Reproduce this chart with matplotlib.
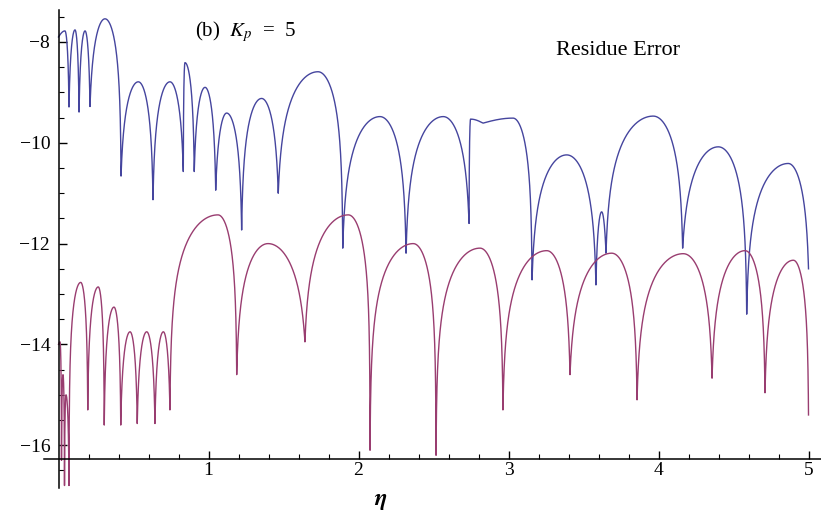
import numpy as np
import matplotlib
matplotlib.use("Agg")
import matplotlib.pyplot as plt

plt.rcParams["font.family"] = ["Liberation Serif", "DejaVu Serif"]
plt.rcParams["mathtext.fontset"] = "stix"

# log10 of the residue error versus eta.
# Nodes alternate: zero/dip, local maximum, zero/dip, ... (value = log10 error)
blue_eta = [0.000, 0.043, 0.070, 0.110, 0.137, 0.177, 0.210, 0.310, 0.417,
            0.532, 0.630, 0.743, 0.832, 0.843, 0.905, 0.977, 1.048, 1.121,
            1.221, 1.354, 1.465, 1.730, 1.895, 2.143, 2.317, 2.565, 2.737,
            2.747, 2.830, 3.030, 3.157, 3.388, 3.583, 3.621, 3.650, 3.965,
            4.161, 4.399, 4.588, 4.865, 5.000]
blue_val = [-7.90, -7.78, -9.29, -7.76, -9.39, -7.78, -9.28, -7.54, -10.66,
            -8.79, -11.13, -8.79, -10.57, -8.41, -10.57, -8.90, -10.94, -9.41,
            -11.73, -9.12, -11.00, -8.59, -12.09, -9.48, -12.19, -9.48, -11.60,
            -9.53, -9.61, -9.51, -12.72, -10.24, -12.82, -11.37, -12.19, -9.47,
            -12.09, -10.08, -13.40, -10.41, -12.50]

pink_eta = [0.000, 0.010, 0.020, 0.030, 0.040, 0.050, 0.070, 0.148, 0.195,
            0.265, 0.305, 0.370, 0.415, 0.477, 0.525, 0.588, 0.643, 0.699,
            0.743, 1.063, 1.188, 1.397, 1.643, 1.932, 2.077, 2.365, 2.517,
            2.810, 2.963, 3.255, 3.410, 3.688, 3.857, 4.165, 4.357, 4.577,
            4.710, 4.899, 5.000]
pink_val = [-14.00, -13.95, -16.30, -14.60, -16.80, -15.00, -16.80, -12.77, -15.30,
            -12.86, -15.60, -13.26, -15.60, -13.75, -15.57, -13.75, -15.57, -13.75,
            -15.30, -11.43, -14.60, -12.00, -13.95, -11.43, -16.10, -12.00, -16.20,
            -12.09, -15.30, -12.14, -14.60, -12.19, -15.10, -12.20, -14.67, -12.14,
            -14.96, -12.33, -15.40]

x_major = [1, 2, 3, 4, 5]
y_major = [-8, -10, -12, -14, -16]

BLUE = (0.27, 0.27, 0.62)
PINK = (0.60, 0.24, 0.44)


def half_arch(t, h, d, steep):
    """log-magnitude profile from a dip value d (t=0) up to a peak h (t=1)."""
    eps = 10.0 ** ((d - h) / steep)
    return h + steep * np.log10((1.0 - eps) * np.sin(np.pi / 2 * t) + eps)


def arch_curve(eta_nodes, val_nodes, steep=2.0, n=200):
    """Join dip/peak nodes with log-magnitude arches (cusps at the zeros)."""
    xs, ys = [], []
    t = np.linspace(0.0, 1.0, n) ** 2
    for i in range(0, len(eta_nodes) - 2, 2):
        z0, p, z1 = eta_nodes[i], eta_nodes[i + 1], eta_nodes[i + 2]
        d0, h, d1 = val_nodes[i], val_nodes[i + 1], val_nodes[i + 2]
        xl = z0 + t * (p - z0)
        yl = half_arch(t, h, d0, steep)
        xr = (z1 - t * (z1 - p))[::-1]
        yr = half_arch(t, h, d1, steep)[::-1]
        xs.extend([xl, xr[1:]])
        ys.extend([yl, yr[1:]])
    return np.concatenate(xs), np.concatenate(ys)


fig = plt.figure(figsize=(8.21, 5.25), dpi=100)
ax = fig.add_axes([0, 0, 1, 1])

x0_px, sx = 58.5, 150.0
y0_px, sy = 42.0, 50.4
ax.set_xlim((0 - x0_px) / sx, (821 - x0_px) / sx)
ax.set_ylim(-8 - (525 - y0_px) / sy, -8 - (0 - y0_px) / sy)

bx, by = arch_curve(blue_eta, blue_val)
px, py = arch_curve(pink_eta, pink_val)
ax.plot(bx, by, color=BLUE, lw=1.0, solid_joinstyle="round")
ax.plot(px, py, color=PINK, lw=1.0, solid_joinstyle="round")

# Axes crossing at the lower-left of the plot range
x_axis_val = -16.28
for s in ("top", "right"):
    ax.spines[s].set_visible(False)
ax.spines["left"].set_position(("data", 0))
ax.spines["bottom"].set_position(("data", x_axis_val))
ax.spines["left"].set_bounds(-16.85, -7.36)
ax.spines["bottom"].set_bounds(-0.1, 5.08)
for s in ("left", "bottom"):
    ax.spines[s].set_linewidth(1.1)

ax.set_xticks(x_major)
ax.set_xticks(np.arange(0.2, 5.01, 0.2), minor=True)
ax.set_yticks(y_major)
ax.set_yticks(np.arange(-16.5, -7.4, 0.5), minor=True)
ax.set_xticklabels([str(v) for v in x_major])
ax.set_yticklabels(["\u2212" + str(-v) for v in y_major])
ax.tick_params(axis="both", which="major", direction="in", length=6, width=1.0,
               labelsize=14)
ax.tick_params(axis="both", which="minor", direction="in", length=3.5, width=0.8)
ax.tick_params(axis="y", which="major", pad=6)
ax.tick_params(axis="x", which="major", pad=2)

ax.text(2.15, -16.9, r"$\boldsymbol{\eta}$", fontsize=17, ha="center",
        va="top")
ax.text(1.25, -7.8, r"(b)  $K_p$  =  5", fontsize=15, ha="center", va="center")
ax.text(3.73, -8.17, "Residue Error", fontsize=16, ha="center", va="center")

fig.savefig("out.png", dpi=100)
